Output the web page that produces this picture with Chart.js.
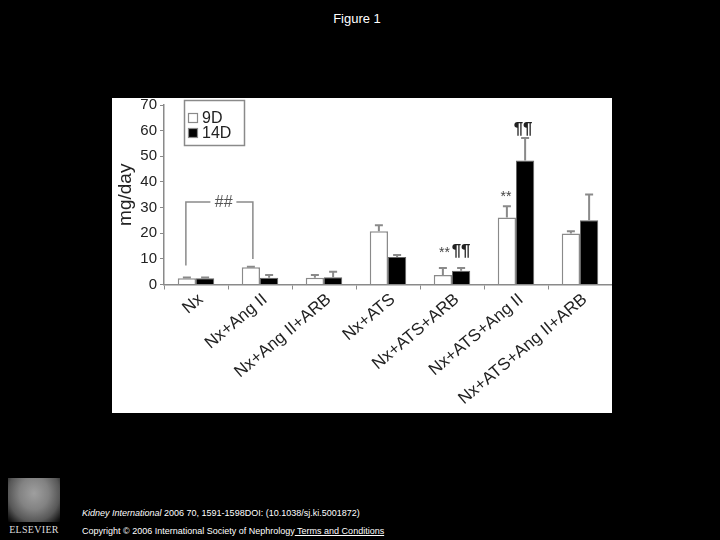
<!DOCTYPE html>
<html><head><meta charset="utf-8">
<script src="https://cdn.jsdelivr.net/npm/chart.js@4"></script>
<style>
body{margin:0;background:#000;width:720px;height:540px;overflow:hidden;position:relative;font-family:"Liberation Sans",Arial,sans-serif;}
#title{position:absolute;top:11px;left:0;width:714px;text-align:center;color:#fff;font-size:13px;}
#panel{position:absolute;left:112px;top:98px;width:500px;height:315px;background:#fff;}
.foot{position:absolute;left:82px;color:#fff;font-size:9px;white-space:nowrap;}
#foot1{top:508px;}
#foot2{top:526px;}
#foot2 u{text-decoration:underline;}
#logo{position:absolute;left:8px;top:478px;width:52px;height:44px;
 background:radial-gradient(ellipse at 50% 35%,#bbb 0%,#999 40%,#666 70%,#000 100%);opacity:.85;}
#logotext{position:absolute;left:6px;top:524px;width:56px;text-align:center;color:#ddd;font-family:"Liberation Serif",serif;font-size:10px;letter-spacing:0.3px;}
</style></head>
<body>
<div id="title">Figure 1</div>
<div id="panel"><canvas id="c" width="500" height="315"></canvas></div>
<div id="logo"></div>
<div id="logotext">ELSEVIER</div>
<div class="foot" id="foot1"><i>Kidney International</i> 2006 70, 1591-1598DOI: (10.1038/sj.ki.5001872)</div>
<div class="foot" id="foot2">Copyright © 2006 International Society of Nephrology<u> Terms and Conditions</u></div>
<script>
const categories = ['Nx','Nx+Ang II','Nx+Ang II+ARB','Nx+ATS','Nx+ATS+ARB','Nx+ATS+Ang II','Nx+ATS+Ang II+ARB'];
const seriesLabels = ['9D','14D'];
const values9D  = [2.4, 6.7, 2.6, 20.8, 3.7, 26.1, 19.9];
const errors9D  = [0.3, 0.2, 1.1, 2.3, 2.7, 4.4, 0.9];
const values14D = [2.4, 2.6, 2.8, 10.7, 5.4, 48.4, 25.1];
const errors14D = [0.3, 1.1, 2.2, 0.8, 1.0, 8.7, 10.0];
const yTicks = [0,10,20,30,40,50,60,70];

const GRAY = '#8a8a8a';
const TXT = '#222';

const errorBarPlugin = {
  id:'errorBars',
  afterDatasetsDraw(chart){
    const ctx = chart.ctx, y = chart.scales.y;
    chart.data.datasets.forEach((ds,i)=>{
      const meta = chart.getDatasetMeta(i);
      meta.data.forEach((bar,j)=>{
        const top = y.getPixelForValue(ds.data[j] + ds.errors[j]);
        ctx.save();
        ctx.strokeStyle = GRAY; ctx.lineWidth = 2;
        ctx.beginPath();
        ctx.moveTo(bar.x, bar.y); ctx.lineTo(bar.x, top);
        ctx.moveTo(bar.x-4, top); ctx.lineTo(bar.x+4, top);
        ctx.stroke();
        ctx.restore();
      });
    });
  }
};

const legendPlugin = {
  id:'boxLegend',
  afterDraw(chart){
    const ctx = chart.ctx;
    ctx.save();
    ctx.strokeStyle = GRAY; ctx.lineWidth = 1.5;
    ctx.strokeRect(72.5, 2.5, 60, 45);
    chart.data.datasets.forEach((ds,i)=>{
      const yy = 15 + i*15;
      ctx.fillStyle = ds.backgroundColor;
      ctx.fillRect(76, yy, 10, 10);
      ctx.strokeStyle = GRAY; ctx.lineWidth = 1.2;
      ctx.strokeRect(76.5, yy+0.5, 9, 9);
      ctx.fillStyle = TXT;
      ctx.font = '16px "Liberation Sans", Arial, sans-serif';
      ctx.textBaseline = 'middle'; ctx.textAlign = 'left';
      ctx.fillText(ds.label, 90, yy+5.5);
    });
    ctx.restore();
  }
};

const annotationPlugin = {
  id:'marks',
  afterDraw(chart){
    const ctx = chart.ctx, y = chart.scales.y;
    const m0 = chart.getDatasetMeta(0).data, m1 = chart.getDatasetMeta(1).data;
    ctx.save();
    // bracket ## between Nx and Nx+Ang II
    const xl = m0[0].x - 1, xr = m0[1].x + 2;
    const yt = y.getPixelForValue(32.2);
    const mid = (xl+xr)/2 + 4;
    ctx.strokeStyle = GRAY; ctx.lineWidth = 1.5;
    ctx.beginPath();
    ctx.moveTo(xl, y.getPixelForValue(7.4)); ctx.lineTo(xl, yt); ctx.lineTo(mid-13, yt);
    ctx.moveTo(mid+13, yt); ctx.lineTo(xr, yt); ctx.lineTo(xr, y.getPixelForValue(9.9));
    ctx.stroke();
    ctx.fillStyle = '#555';
    ctx.textAlign = 'center'; ctx.textBaseline = 'middle';
    ctx.font = 'italic 16px "Liberation Sans", Arial, sans-serif';
    ctx.fillText('##', mid, yt+1);
    // ** ¶¶ marks
    const star = (x, v) => {
      ctx.font = '14px "Liberation Sans", Arial, sans-serif';
      ctx.fillStyle = '#444';
      ctx.fillText('**', x, y.getPixelForValue(v)+2);
    };
    const pil = (x, v) => {
      ctx.font = 'bold 17px "Liberation Sans", Arial, sans-serif';
      ctx.fillStyle = '#222';
      ctx.fillText('¶¶', x, y.getPixelForValue(v));
    };
    star(m0[4].x + 1.5, 13);
    pil(m1[4].x, 13);
    star(m0[5].x - 1, 34.8);
    pil(m1[5].x - 2, 60.4);
    ctx.restore();
  }
};

new Chart(document.getElementById('c'), {
  type:'bar',
  data:{
    labels: categories,
    datasets:[
      {label:seriesLabels[0], data:values9D, errors:errors9D, backgroundColor:'#ffffff', borderColor:GRAY, borderWidth:1.5,
       categoryPercentage:0.57, barPercentage:1.0},
      {label:seriesLabels[1], data:values14D, errors:errors14D, backgroundColor:'#000000', borderColor:'#666', borderWidth:1,
       categoryPercentage:0.57, barPercentage:1.0}
    ]
  },
  options:{
    responsive:false, animation:false,
    devicePixelRatio:1,
    layout:{padding:{top:7,left:0,right:0,bottom:0}},
    plugins:{legend:{display:false}, tooltip:{enabled:false}},
    scales:{
      x:{
        grid:{display:true, drawOnChartArea:false, color:GRAY, tickLength:5, offset:true},
        border:{color:GRAY, width:1.5},
        ticks:{color:TXT, font:{size:17, family:'"Liberation Sans", Arial, sans-serif'}, minRotation:40, maxRotation:40, padding:0, labelOffset:5, autoSkip:false},
        afterFit(s){ s.height = 128.5; s.paddingLeft = 0; s.paddingRight = 0; }
      },
      y:{
        min:0, max:70,
        afterBuildTicks(s){ s.ticks = yTicks.map(v=>({value:v})); },
        grid:{display:true, drawOnChartArea:false, color:GRAY, tickLength:4},
        border:{color:GRAY, width:1.5},
        ticks:{color:TXT, font:{size:15, family:'"Liberation Sans", Arial, sans-serif'}, padding:3},
        title:{display:true, text:'mg/day', color:TXT, font:{size:19, family:'"Liberation Sans", Arial, sans-serif'}, padding:{top:2,bottom:0}},
        afterFit(s){ s.width = 52; s.paddingTop = 0; s.paddingBottom = 0; }
      }
    }
  },
  plugins:[errorBarPlugin, legendPlugin, annotationPlugin]
});
</script>
</body></html>
